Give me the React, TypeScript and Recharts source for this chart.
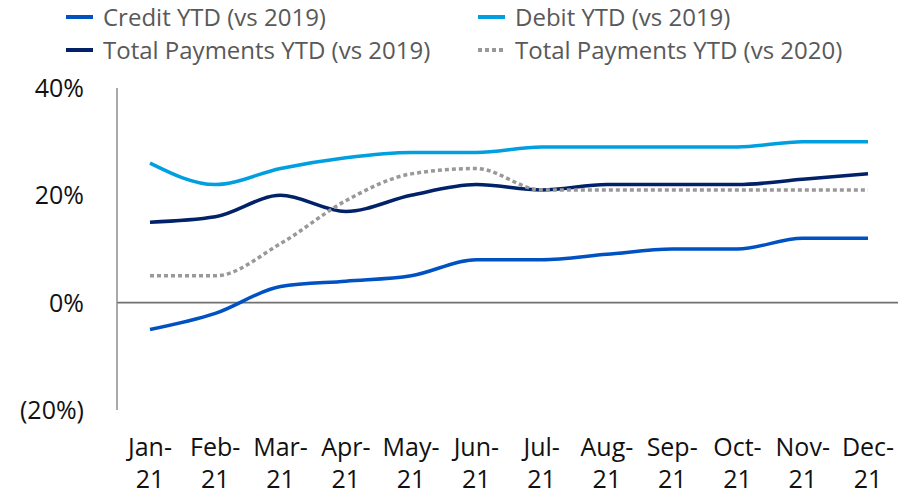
import { Line, LineChart, ReferenceLine, XAxis, YAxis } from "recharts";

const months = ["Jan-21", "Feb-21", "Mar-21", "Apr-21", "May-21", "Jun-21", "Jul-21", "Aug-21", "Sep-21", "Oct-21", "Nov-21", "Dec-21"];
const credit19 = [-5, -2, 3, 4, 5, 8, 8, 9, 10, 10, 12, 12];
const debit19 = [26, 22, 25, 27, 28, 28, 29, 29, 29, 29, 30, 30];
const total19 = [15, 16, 20, 17, 20, 22, 21, 22, 22, 22, 23, 24];
const total20 = [5, 5, 11, 19, 24, 25, 21, 21, 21, 21, 21, 21];
const yTicks = [-20, 0, 20, 40];

const FONT = '"Open Sans", sans-serif';
const AXIS_FS = 25;
const LEGEND_FS = 24;
const TEXT = "#111";
const LEGEND_TEXT = "#595959";

const series = [
  { key: "credit", name: "Credit YTD (vs 2019)", color: "#0052c2", dash: undefined },
  { key: "debit", name: "Debit YTD (vs 2019)", color: "#009fe0", dash: undefined },
  { key: "total19", name: "Total Payments YTD (vs 2019)", color: "#012169", dash: undefined },
  { key: "total20", name: "Total Payments YTD (vs 2020)", color: "#999999", dash: "4 3" },
];

const data = months.map((m, i) => ({
  month: m,
  credit: credit19[i],
  debit: debit19[i],
  total19: total19[i],
  total20: total20[i],
}));

const fmtPct = (v: number) => (v < 0 ? `(${Math.abs(v)}%)` : `${v}%`);

function MonthTick({ x, y, payload }: any) {
  const [mon, yr] = String(payload.value).split("-");
  return (
    <g>
      <text x={x} y={y + 46} textAnchor="middle" fill={TEXT} fontSize={AXIS_FS} fontFamily={FONT}>{mon}-</text>
      <text x={x} y={y + 78} textAnchor="middle" fill={TEXT} fontSize={AXIS_FS} fontFamily={FONT}>{yr}</text>
    </g>
  );
}

function LegendBlock() {
  const cols = [66, 478];
  const rows = [17, 50];
  return (
    <svg width={898} height={70} style={{ position: "absolute", left: 0, top: 0 }}>
      {series.map((s, i) => {
        const x = cols[i % 2];
        const y = rows[Math.floor(i / 2)];
        return (
          <g key={s.key}>
            <line x1={x} y1={y} x2={x + 27} y2={y} stroke={s.color} strokeWidth={4} strokeDasharray={s.dash ? "4 3" : undefined} />
            <text x={x + 37} y={y} dy="0.36em" fill={LEGEND_TEXT} fontSize={LEGEND_FS} fontFamily={FONT}>{s.name}</text>
          </g>
        );
      })}
    </svg>
  );
}

export default function App() {
  return (
    <div style={{ position: "absolute", left: 0, top: 0, width: 898, height: 495, background: "#fff" }}>
      <LegendBlock />
      <LineChart width={898} height={495} data={data} margin={{ top: 88, right: 0, bottom: 0, left: 0 }}>
        <XAxis
          dataKey="month"
          axisLine={false}
          tickLine={false}
          tickSize={0}
          tickMargin={0}
          height={85}
          interval={0}
          padding={{ left: 33, right: 30 }}
          tick={<MonthTick />}
        />
        <YAxis
          domain={[-20, 40]}
          ticks={yTicks}
          width={117}
          tickLine={false}
          tickSize={0}
          tickMargin={33}
          tickFormatter={fmtPct}
          axisLine={{ stroke: "#8c8c8c", strokeWidth: 1.5 }}
          tick={{ fill: TEXT, fontSize: AXIS_FS, fontFamily: FONT }}
        />
        <ReferenceLine y={0} stroke="#707070" strokeWidth={1.8} />
        {series.map((s) => (
          <Line
            key={s.key}
            dataKey={s.key}
            name={s.name}
            type="monotone"
            stroke={s.color}
            strokeWidth={3.5}
            strokeDasharray={s.dash}
            dot={false}
            activeDot={false}
            isAnimationActive={false}
          />
        ))}
      </LineChart>
    </div>
  );
}
